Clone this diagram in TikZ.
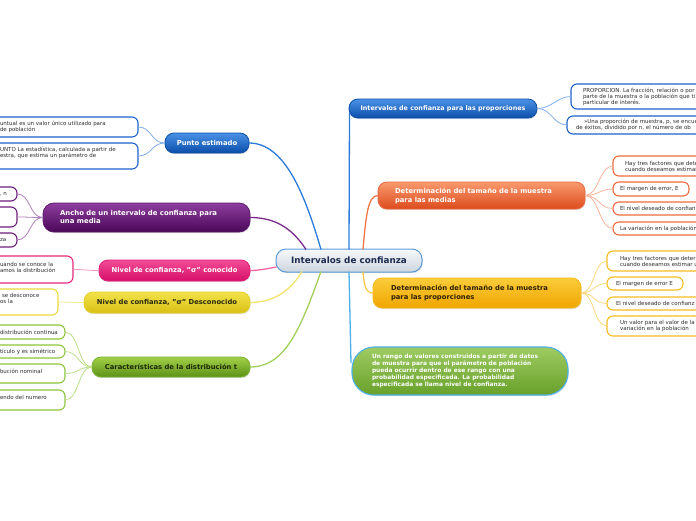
\documentclass[tikz,border=0pt]{standalone}
\usepackage{fontspec}
\setmainfont{DejaVu Sans}
\usetikzlibrary{shadows}
\definecolor{cenTop}{HTML}{F7F9FB}
\definecolor{cenBot}{HTML}{CCD5DE}
\definecolor{cenDraw}{HTML}{5A9BD5}
\definecolor{cenText}{HTML}{1B2A4E}
\definecolor{bluTop}{HTML}{4A92E6}
\definecolor{bluBot}{HTML}{0B4DAA}
\definecolor{bluDraw}{HTML}{0D4FA8}
\definecolor{bluLine}{HTML}{2C7BDB}
\definecolor{bluLeaf}{HTML}{1E63CC}
\definecolor{oraTop}{HTML}{F99A6E}
\definecolor{oraBot}{HTML}{DD4A1C}
\definecolor{oraDraw}{HTML}{E86A40}
\definecolor{oraLine}{HTML}{F2784A}
\definecolor{oraLeaf}{HTML}{F26A3C}
\definecolor{golTop}{HTML}{FACC3A}
\definecolor{golBot}{HTML}{F0A500}
\definecolor{golDraw}{HTML}{F7BA1C}
\definecolor{golLine}{HTML}{F8C848}
\definecolor{golLeaf}{HTML}{F8BC22}
\definecolor{golText}{HTML}{2E2200}
\definecolor{purTop}{HTML}{8E3E9E}
\definecolor{purBot}{HTML}{4A0757}
\definecolor{purDraw}{HTML}{5C1A6C}
\definecolor{purLine}{HTML}{7B2C8C}
\definecolor{purLeaf}{HTML}{6C1C7C}
\definecolor{pinTop}{HTML}{F24C96}
\definecolor{pinBot}{HTML}{D60E68}
\definecolor{pinDraw}{HTML}{E41E78}
\definecolor{pinLine}{HTML}{F266A6}
\definecolor{pinLeaf}{HTML}{E6287E}
\definecolor{yelTop}{HTML}{F2E24A}
\definecolor{yelBot}{HTML}{D9C014}
\definecolor{yelDraw}{HTML}{E2D02A}
\definecolor{yelLine}{HTML}{F2E46A}
\definecolor{yelLeaf}{HTML}{EAD93A}
\definecolor{yelText}{HTML}{2A2A10}
\definecolor{grnTop}{HTML}{A2CF48}
\definecolor{grnBot}{HTML}{5C9216}
\definecolor{grnDraw}{HTML}{7AB22E}
\definecolor{grnLine}{HTML}{A2D05A}
\definecolor{grnLeaf}{HTML}{8CC43C}
\definecolor{grnText}{HTML}{1E2A05}
\definecolor{bubTop}{HTML}{9ECB62}
\definecolor{bubBot}{HTML}{68A02A}
\definecolor{bubDraw}{HTML}{4FB0EA}
\definecolor{leafText}{HTML}{2E2E2E}
\newcommand\leaffont{\fontsize{5.5}{6}\selectfont}
\newcommand\brfont{\fontsize{6.8}{8.3}\selectfont\bfseries}
\newcommand\qt{\symbol{34}}
\newcommand\mkleaf[6]{\node[leafbox,draw=#2,minimum width=#5pt,minimum height=#6pt] (#1) at (#3,#4) {};}
\begin{document}
\begin{tikzpicture}[x=1pt,y=-1pt,
  every node/.style={inner sep=0pt,outer sep=0pt},
  leafbox/.style={anchor=north west,rounded corners=6pt,line width=1.1pt,fill=white},
  leaftext/.style={anchor=west,align=left,font=\leaffont,text=leafText},
  brbox/.style={anchor=north west,rounded corners=9pt,line width=0.8pt,
    drop shadow={shadow xshift=0.6pt,shadow yshift=-1.2pt,opacity=0.25}},
  brtext/.style={anchor=west,align=left,font=\brfont},
  mainline/.style={line width=1.3pt},
  leafline/.style={line width=0.8pt}]
\useasboundingbox (0,0) rectangle (696,520);
\fill[white] (0,0) rectangle (696,520);
\clip (0,0) rectangle (696,520);

% ---------- central node
\node[brbox,rounded corners=10pt,top color=cenTop,bottom color=cenBot,draw=cenDraw,line width=1pt,
  minimum width=146pt,minimum height=23pt,text=cenText,font=\fontsize{8.8}{10}\selectfont\bfseries] (c) at (276,249) {Intervalos de confianza};

% ---------- right branches
\node[brbox,top color=bluTop,bottom color=bluBot,draw=bluDraw,minimum width=188pt,minimum height=19pt,
  text=white,font=\fontsize{6.4}{8}\selectfont\bfseries] (prop) at (349,99) {Intervalos de confianza para las proporciones};

\node[brbox,top color=oraTop,bottom color=oraBot,draw=oraDraw,minimum width=207pt,minimum height=27pt] (med) at (378,182) {};
\node[brtext,text=white] (medt) at (395,196) {Determinación del tamaño de la muestra\\para las medias};

\node[brbox,top color=golTop,bottom color=golBot,draw=golDraw,minimum width=208pt,minimum height=30pt] (gprop) at (373,278) {};
\node[brtext,text=golText] (gpropt) at (391,293) {Determinación del tamaño de la muestra\\para las proporciones};

\node[brbox,rounded corners=22pt,top color=bubTop,bottom color=bubBot,draw=bubDraw,line width=1.1pt,
  minimum width=216pt,minimum height=48pt] (bub) at (352,347) {};
\node[anchor=west,align=left,text=white,font=\fontsize{5.9}{6.9}\selectfont\bfseries] (bubt) at (372,371)
  {Un rango de valores construidos a partir de datos\\de muestra para que el parámetro de población\\pueda ocurrir dentro de ese rango con una\\probabilidad especificada. La probabilidad\\especificada se llama nivel de confianza.};

% ---------- left branches
\node[brbox,top color=bluTop,bottom color=bluBot,draw=bluDraw,minimum width=84pt,minimum height=20pt,
  text=white,font=\brfont] (punto) at (165,133) {Punto estimado};

\node[brbox,rounded corners=11pt,top color=purTop,bottom color=purBot,draw=purDraw,minimum width=207pt,minimum height=29pt] (anc) at (43,203) {};
\node[brtext,text=white,font=\fontsize{6.9}{8.3}\selectfont\bfseries] (anct) at (60,217) {Ancho de un intervalo de confianza para\\una media};

\node[brbox,top color=pinTop,bottom color=pinBot,draw=pinDraw,minimum width=151pt,minimum height=21pt,
  text=white,font=\brfont] (pin) at (99,260) {Nivel de confianza, \qt σ\qt{} conocido};

\node[brbox,top color=yelTop,bottom color=yelBot,draw=yelDraw,minimum width=166pt,minimum height=21pt,
  text=yelText,font=\brfont] (yel) at (84,292) {Nivel de confianza, \qt σ\qt{} Desconocido};

\node[brbox,top color=grnTop,bottom color=grnBot,draw=grnDraw,minimum width=158pt,minimum height=20pt,
  text=grnText,font=\brfont] (grn) at (92,357) {Características de la distribución t};

% ---------- leaves right
\mkleaf{p1}{bluLeaf}{571}{84}{140}{25}
\node[leaftext] (p1t) at (583,96.5) {PROPORCION. La fracción, relación o por\\parte de la muestra o la población que ti\\particular de interés.};
\mkleaf{p2}{bluLeaf}{567}{116}{140}{18}
\node[leaftext] (p2t) at (576,125) {\hspace*{8pt}»Una proporción de muestra, p, se encue\\de éxitos, dividido por n, el número de ob};

\mkleaf{o1}{oraLeaf}{613}{156}{100}{20}
\node[leaftext] (o1t) at (625,166) {Hay tres factores que dete\\cuando deseamos estiman};
\mkleaf{o2}{oraLeaf}{613}{182}{76}{14}
\node[leaftext] (o2t) at (620,189) {El margen de error, E};
\mkleaf{o3}{oraLeaf}{613}{202}{100}{13}
\node[leaftext] (o3t) at (620,208.5) {El nivel deseado de confian};
\mkleaf{o4}{oraLeaf}{613}{222}{100}{13}
\node[leaftext] (o4t) at (620,228.5) {La variación en la población};

\mkleaf{g1}{golLeaf}{607}{251}{100}{20}
\node[leaftext] (g1t) at (620,261) {Hay tres factores que deter\\cuando deseamos estimar u};
\mkleaf{g2}{golLeaf}{607}{277}{76}{13}
\node[leaftext] (g2t) at (616,283.5) {El margen de error E};
\mkleaf{g3}{golLeaf}{607}{297}{100}{13}
\node[leaftext] (g3t) at (616,303.5) {El nivel deseado de confianz};
\mkleaf{g4}{golLeaf}{607}{316}{100}{20}
\node[leaftext] (g4t) at (620,326) {Un valor para el valor de la\\variación en la población};

% ---------- leaves left
\mkleaf{l1}{bluLeaf}{-8}{117}{146}{20}
\node[leaftext] (l1t) at (0,127) {untual es un valor único utilizado para\\de población};
\mkleaf{l2}{bluLeaf}{-8}{143}{146}{26}
\node[leaftext] (l2t) at (0,153) {UNTO La estadística, calculada a partir de\\estra, que estima un parámetro de};

\mkleaf{u1}{purLeaf}{-8}{187}{25}{14}
\node[leaftext] (u1t) at (0,194) {, n};
\mkleaf{u2}{purLeaf}{-8}{207}{25}{20}
\mkleaf{u3}{purLeaf}{-8}{233}{25}{14}
\node[leaftext] (u3t) at (0,240) {za};

\mkleaf{k1}{pinLeaf}{-8}{256}{81}{27}
\node[leaftext] (k1t) at (0,267) {uando se conoce la\\amos la distribución};

\mkleaf{y1}{yelLeaf}{-8}{289}{66}{26}
\node[leaftext] (y1t) at (0,298) {\hspace*{2pt}se desconoce\\os la};

\mkleaf{e1}{grnLeaf}{-8}{325}{73}{14}
\node[leaftext] (e1t) at (0,332) {distribución continua};
\mkleaf{e2}{grnLeaf}{-8}{345}{73}{13}
\node[leaftext] (e2t) at (0,351.5) {tículo y es simétrico};
\mkleaf{e3}{grnLeaf}{-8}{364}{73}{19}
\node[leaftext] (e3t) at (0,371.5) {bución nominal};
\mkleaf{e4}{grnLeaf}{-8}{390}{73}{20}
\node[leaftext] (e4t) at (0,397) {endo del numero};

% ---------- main connectors
\coordinate (cpu) at (321,249.5);
\coordinate (cpr) at (306,249.5);
\coordinate (cpi) at (276.5,267);
\coordinate (cye) at (302,271.5);
\coordinate (cgr) at (321,271.5);
\coordinate (cup) at (349,249.5);
\coordinate (cdn) at (349,271.5);
\coordinate (cor) at (363,249.5);
\coordinate (cgo) at (363,271.5);
\coordinate (pup) at (349.5,113);
\coordinate (bdn) at (351,363);
\draw[mainline,bluLine] (cpu) .. controls (305,195) and (285,143) .. (punto.east);
\draw[mainline,purLine] (cpr) .. controls (292,228) and (275,217.5) .. (anc.east);
\draw[mainline,pinLine] (cpi) .. controls (266,269) and (258,270.5) .. (pin.east);
\draw[mainline,yelLine] (cye) .. controls (290,292) and (272,302.5) .. (yel.east);
\draw[mainline,grnLine] (cgr) .. controls (300,330) and (285,367) .. (grn.east);
\draw[mainline,bluLine] (cup) -- (pup);
\draw[mainline,bubDraw] (cdn) -- (bdn);
\draw[mainline,oraLine] (cor) .. controls (366,215) and (368,195.5) .. (med.west);
\draw[mainline,golLine] (cgo) .. controls (364,286) and (366,293) .. (gprop.west);

% ---------- leaf connectors
\foreach \l in {p1,p2}
  \draw[leafline,bluLine!60] (prop.east) .. controls +(15,0) and +(-14,0) .. (\l.west);
\foreach \l in {o1,o2,o3,o4}
  \draw[leafline,oraLine!55] (med.east) .. controls +(14,0) and +(-14,0) .. (\l.west);
\foreach \l in {g1,g2,g3,g4}
  \draw[leafline,golLine!70] (gprop.east) .. controls +(14,0) and +(-14,0) .. (\l.west);
\foreach \l in {l1,l2}
  \draw[leafline,bluLine!60] (punto.west) .. controls +(-14,0) and +(14,0) .. (\l.east);
\foreach \l in {u1,u2,u3}
  \draw[leafline,purLine!60] (anc.west) .. controls +(-14,0) and +(14,0) .. (\l.east);
\draw[leafline,pinLine!70] (pin.west) .. controls +(-12,0) and +(12,0) .. (k1.east);
\draw[leafline,yelLine!80] (yel.west) .. controls +(-12,0) and +(12,0) .. (y1.east);
\foreach \l in {e1,e2,e3,e4}
  \draw[leafline,grnLine!70] (grn.west) .. controls +(-14,0) and +(14,0) .. (\l.east);
\end{tikzpicture}
\end{document}
